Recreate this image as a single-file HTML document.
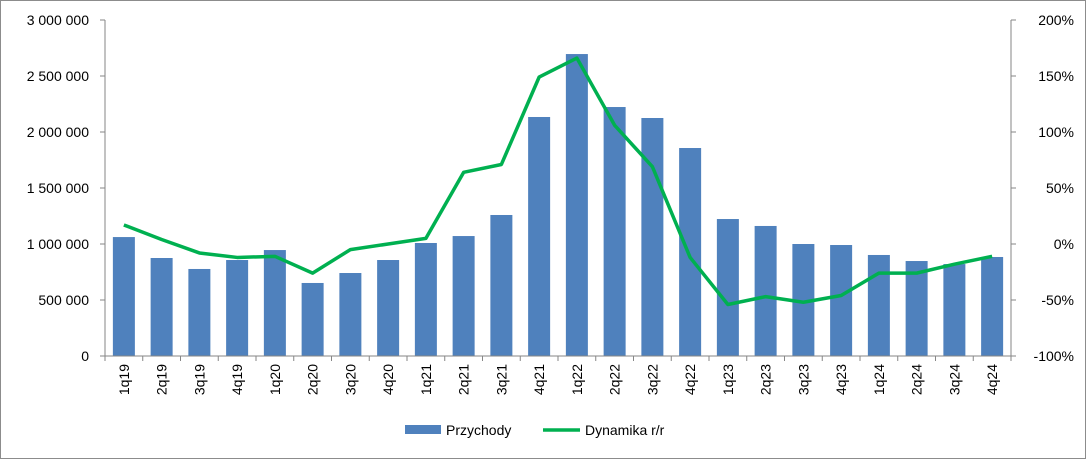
<!DOCTYPE html>
<html><head><meta charset="utf-8"><style>
body{margin:0;background:#fff}
svg{display:block;font-family:"Liberation Sans",sans-serif}
</style></head><body>
<svg id="c" width="1086" height="459">
<rect x="0.5" y="0.5" width="1085" height="458" fill="#fff" stroke="#8c8c8c"/>
<g id="g"></g>
</svg>
<script>
const categories=["1q19","2q19","3q19","4q19","1q20","2q20","3q20","4q20","1q21","2q21","3q21","4q21","1q22","2q22","3q22","4q22","1q23","2q23","3q23","4q23","1q24","2q24","3q24","4q24"];
const revenue=[1062000,875000,777000,857000,946000,652000,741000,857000,1009000,1071000,1259000,2134000,2696000,2223000,2125000,1857000,1223000,1161000,1000000,991000,902000,848000,821000,884000];
const growth=[17,4,-8,-12,-11,-26,-5,0,5,64,71,149,166,106,69,-12,-54,-47,-52,-46,-26,-26,-18,-11];
const leftTicks=[0,500000,1000000,1500000,2000000,2500000,3000000];
const rightTicks=[-100,-50,0,50,100,150,200];
const L=105,R=1011,T=20,B=356;
const ns="http://www.w3.org/2000/svg",g=document.getElementById('g');
function yL(v){return B-(v/3000000)*(B-T);}
function yR(v){return B-((v+100)/300)*(B-T);}
const step=(R-L)/categories.length;
function xC(i){return L+step*(i+0.5);}
function el(t,a,p){const e=document.createElementNS(ns,t);for(const k in a)e.setAttribute(k,a[k]);(p||g).appendChild(e);return e;}
function fmt(v){return String(v).replace(/\B(?=(\d{3})+(?!\d))/g," ");}
revenue.forEach((v,i)=>{const r=el('rect',{x:xC(i)-11,y:yL(v),width:22,height:B-yL(v),fill:'#4f81bd'});

});
let ax=el('line',{x1:L,y1:T,x2:L,y2:B,stroke:'#868686'});
ax=el('line',{x1:R,y1:T,x2:R,y2:B,stroke:'#868686'});
ax=el('line',{x1:L,y1:B,x2:R,y2:B,stroke:'#868686'});
leftTicks.forEach(v=>{el('line',{x1:L-5,y1:yL(v),x2:L,y2:yL(v),stroke:'#868686'});
const t=el('text',{x:L-16,y:yL(v)+5,'text-anchor':'end','font-size':14,fill:'#000'});t.textContent=fmt(v);
});
rightTicks.forEach(v=>{el('line',{x1:R,y1:yR(v),x2:R+5,y2:yR(v),stroke:'#868686'});
const t=el('text',{x:1074,y:yR(v)+5,'text-anchor':'end','font-size':14,fill:'#000'});t.textContent=v+'%';
});
categories.forEach((c,i)=>{el('line',{x1:L+step*i,y1:B,x2:L+step*i,y2:B+5,stroke:'#868686'});
const t=el('text',{x:0,y:0,'text-anchor':'end','font-size':14,fill:'#000',transform:`translate(${xC(i)+5},${B+8}) rotate(-90)`});t.textContent=c;
});
el('line',{x1:R,y1:B,x2:R,y2:B+5,stroke:'#868686'});
const pl=el('polyline',{points:growth.map((v,i)=>xC(i)+','+yR(v)).join(' '),fill:'none',stroke:'#00b050','stroke-width':3.5,'stroke-linejoin':'round'});

let lg=el('rect',{x:405,y:425,width:36,height:9,fill:'#4f81bd'});
let lt=el('text',{x:446,y:435,'font-size':14});lt.textContent='Przychody';
lg=el('line',{x1:543,y1:430,x2:580,y2:430,stroke:'#00b050','stroke-width':3.5});
lt=el('text',{x:585,y:435,'font-size':14});lt.textContent='Dynamika r/r';
</script>
</body></html>
